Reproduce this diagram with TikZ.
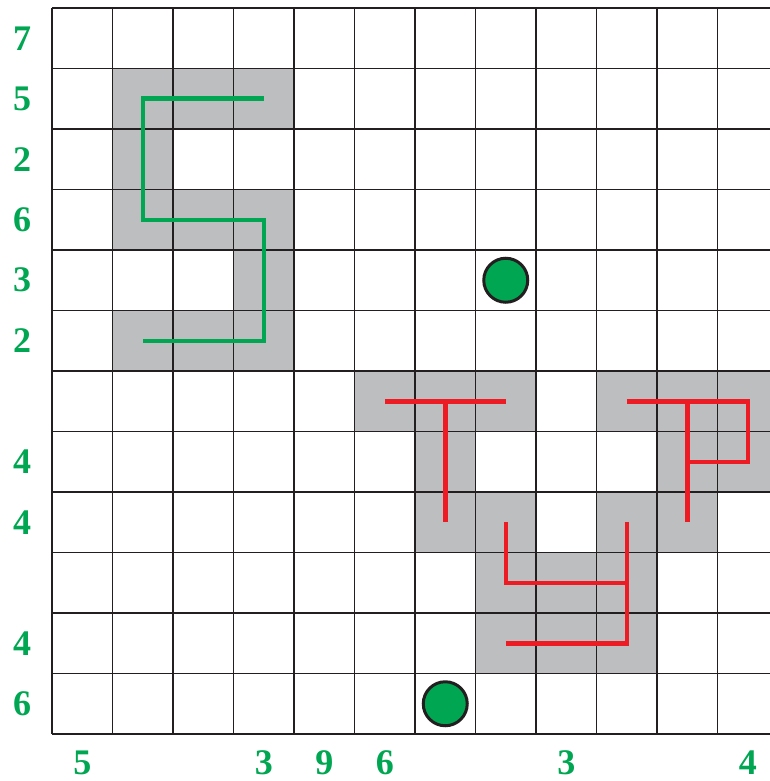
\documentclass[tikz,border=0pt]{standalone}
\usepackage{fontspec}
\setmainfont{Liberation Serif}
\definecolor{pgreen}{RGB}{0,166,81}
\definecolor{pred}{RGB}{237,28,36}
\definecolor{pgray}{RGB}{188,190,192}
\definecolor{gline}{RGB}{35,31,32}
\tikzset{
  gridline/.style={draw=gline, line width=1.4pt},
  cellfill/.style={fill=pgray},
  gpath/.style={draw=pgreen, line width=4.5pt, line join=miter},
  rpath/.style={draw=pred, line width=4.5pt, line join=miter},
  dot/.style={circle, fill=pgreen, draw=gline, line width=3pt, minimum size=44pt, inner sep=0pt},
  lab/.style={text=pgreen, font=\fontsize{36}{36}\selectfont\bfseries, inner sep=0pt}
}
\newcommand{\cx}[1]{82.25+60.5*#1}
\newcommand{\cy}[1]{38.25+60.5*#1}
\begin{document}
\begin{tikzpicture}[x=1pt,y=-1pt]
\useasboundingbox (0,0) rectangle (770,781);
% shaded cells
\foreach \c/\r in {1/1,2/1,3/1,1/2,1/3,2/3,3/3,3/4,1/5,2/5,3/5,
  5/6,6/6,7/6,9/6,10/6,11/6,6/7,10/7,11/7,6/8,7/8,9/8,10/8,
  7/9,8/9,9/9,7/10,8/10,9/10}
  \fill[cellfill] ({52+60.5*\c},{8+60.5*\r}) rectangle ++(60.5,60.5);
% grid
\foreach \i in {0,...,12} {
  \draw[gridline] ({52+60.5*\i},8) -- ({52+60.5*\i},734);
  \draw[gridline] (52,{8+60.5*\i}) -- (778,{8+60.5*\i});
}
% green S
\draw[gpath] ({\cx{3}},{\cy{1}}) -- ({\cx{1}},{\cy{1}}) -- ({\cx{1}},{\cy{3}}) -- ({\cx{3}},{\cy{3}}) -- ({\cx{3}},{\cy{5}}) -- ({\cx{1}},{\cy{5}});
% red T
\draw[rpath] ({\cx{5}},{\cy{6}}) -- ({\cx{7}},{\cy{6}});
\draw[rpath] ({\cx{6}},{\cy{6}}) -- ({\cx{6}},{\cy{8}});
% red P
\draw[rpath] ({\cx{9}},{\cy{6}}) -- ({\cx{11}},{\cy{6}}) -- ({\cx{11}},{\cy{7}}) -- ({\cx{10}},{\cy{7}});
\draw[rpath] ({\cx{10}},{\cy{6}}) -- ({\cx{10}},{\cy{8}});
% red Y
\draw[rpath] ({\cx{7}},{\cy{8}}) -- ({\cx{7}},{\cy{9}}) -- ({\cx{9}},{\cy{9}});
\draw[rpath] ({\cx{9}},{\cy{8}}) -- ({\cx{9}},{\cy{10}}) -- ({\cx{7}},{\cy{10}});
% dots
\node[dot] (d1) at ({\cx{7}},{\cy{4}}) {};
\node[dot] (d2) at ({\cx{6}},{\cy{11}}) {};
% row labels
\foreach \r/\t in {0/7,1/5,2/2,3/6,4/3,5/2,7/4,8/4,10/4,11/6}
  \node[lab] (r\r) at (22,{\cy{\r}}) {\t};
% column labels
\foreach \c/\t in {0/5,3/3,4/9,5/6,8/3,11/4}
  \node[lab] (c\c) at ({\cx{\c}},763) {\t};
\end{tikzpicture}
\end{document}
